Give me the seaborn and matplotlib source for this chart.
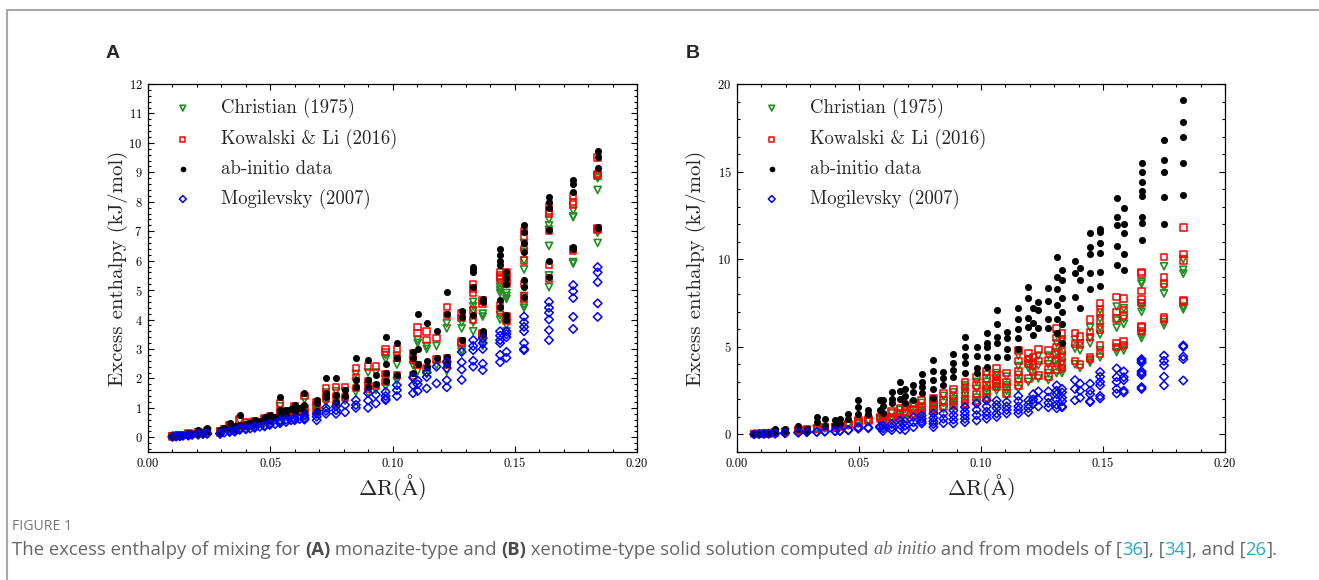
import numpy as np
import pandas as pd
import matplotlib
matplotlib.use("Agg")
import matplotlib.pyplot as plt
import seaborn as sns
from matplotlib.ticker import MultipleLocator, FormatStrFormatter
from matplotlib.lines import Line2D

# ---------------- DATA ----------------
SERIES = ["Christian (1975)", "Kowalski & Li (2016)", "ab-initio data", "Mogilevsky (2007)"]

# Panel A (monazite-type): one x value per column, several compositions per column
A_x = [0.0100, 0.0115, 0.0130, 0.0143, 0.0165, 0.0180, 0.0205, 0.0225, 0.0242, 0.0295,
       0.0312, 0.0334, 0.0355, 0.0375, 0.0400, 0.0418, 0.0436, 0.0457, 0.0477, 0.0498,
       0.0520, 0.0540, 0.0565, 0.0585, 0.0600, 0.0620, 0.0640, 0.0690, 0.0728, 0.0769,
       0.0806, 0.0850, 0.0900, 0.0932, 0.0972, 0.1018, 0.1084, 0.1103, 0.1140, 0.1180,
       0.1222, 0.1283, 0.1330, 0.1369, 0.1440, 0.1466, 0.1538, 0.1640, 0.1739, 0.1839]
A_abinitio = [[0.03, 0.04], [0.05, 0.06], [0.06, 0.08], [0.07], [0.15, 0.10], [0.12], [0.24, 0.15], [0.16],
              [0.30, 0.20], [0.25, 0.18], [0.33], [0.50, 0.30], [0.38, 0.28], [0.75, 0.42], [0.44, 0.40],
              [0.50], [0.58, 0.46], [0.55], [0.69, 0.55], [0.75, 0.60], [0.70], [1.36, 0.92, 0.75],
              [0.92, 0.78], [0.95], [1.09, 0.85], [1.00], [1.49, 1.09, 0.85], [1.25, 1.15, 0.90],
              [2.00, 1.50, 1.36], [2.00, 1.45, 1.20], [1.60, 1.40], [2.70, 1.94, 1.70], [2.62, 1.94, 1.70],
              [2.10, 1.80], [3.40, 2.50, 2.20, 1.90], [3.20, 2.70, 2.10], [2.90, 2.70, 2.20],
              [4.18, 3.00, 2.50], [3.87, 2.60, 2.40], [3.60, 2.70], [4.94, 4.20, 2.73, 2.50],
              [4.30, 4.10, 3.30, 3.30], [5.80, 5.70, 5.60, 5.10, 4.15], [4.70, 4.60, 3.60, 3.55, 3.50],
              [6.40, 6.20, 6.00, 5.85, 4.66, 4.43], [5.60, 5.40, 5.20, 4.15, 4.00],
              [7.20, 6.97, 6.60, 6.30, 5.35, 5.10, 4.76], [8.17, 8.00, 7.80, 7.05, 6.00, 5.45],
              [8.74, 8.60, 8.34, 6.46, 6.40], [9.72, 9.52, 9.15, 7.15, 7.12]]
A_kowalski = [[0.03, 0.04], [0.05, 0.05], [0.06, 0.07], [0.07], [0.12, 0.09], [0.11], [0.18, 0.14], [0.15],
              [0.22, 0.18], [0.22, 0.17], [0.28], [0.42, 0.28], [0.33, 0.27], [0.60, 0.38], [0.52, 0.40],
              [0.45], [0.55, 0.45], [0.50], [0.65, 0.52], [0.70, 0.58], [0.65], [1.15, 0.88, 0.72],
              [0.88, 0.75], [0.90], [1.05, 0.82], [0.95], [1.40, 1.00, 0.82], [1.20, 1.10, 0.88],
              [1.66, 1.45, 1.30], [1.70, 1.40, 1.15], [1.70, 1.35], [2.35, 2.05, 1.68], [2.40, 1.90, 1.65],
              [2.40, 1.75], [3.00, 2.90, 2.15, 1.88], [3.00, 2.70, 2.10], [2.85, 2.65, 2.10],
              [3.75, 3.54, 2.45], [3.60, 3.30, 2.35], [3.37, 2.65], [4.43, 4.15, 2.70, 2.45],
              [4.20, 4.05, 3.25, 3.20], [5.20, 4.90, 5.05, 4.30, 4.00], [4.65, 4.55, 3.55, 3.50, 3.45],
              [5.60, 5.45, 5.50, 5.40, 4.50, 4.30], [5.60, 5.40, 5.20, 4.10, 3.95],
              [7.00, 6.80, 6.40, 6.00, 5.20, 4.80, 4.70], [7.85, 7.60, 7.70, 7.00, 5.85, 5.40],
              [8.00, 7.90, 8.20, 6.40, 6.35], [9.50, 8.95, 8.90, 7.10, 7.05]]
A_christian = [[0.03, 0.035], [0.045, 0.05], [0.05, 0.06], [0.06], [0.11, 0.08], [0.10], [0.16, 0.13], [0.14],
               [0.20, 0.17], [0.20, 0.16], [0.26], [0.38, 0.26], [0.30, 0.25], [0.55, 0.35], [0.48, 0.37],
               [0.42], [0.50, 0.41], [0.46], [0.60, 0.48], [0.64, 0.53], [0.60], [1.05, 0.80, 0.66],
               [0.80, 0.69], [0.82], [0.96, 0.75], [0.87], [1.28, 0.92, 0.75], [1.10, 1.00, 0.80],
               [1.52, 1.33, 1.19], [1.56, 1.28, 1.05], [1.56, 1.24], [2.15, 1.88, 1.54], [2.20, 1.74, 1.51],
               [2.20, 1.60], [2.80, 2.65, 1.97, 1.72], [2.75, 2.47, 1.92], [2.60, 2.45, 1.95],
               [3.30, 3.20, 2.25], [3.10, 3.00, 2.15], [3.10, 2.45], [3.87, 3.70, 2.48, 2.25],
               [3.90, 3.70, 2.95, 2.90], [4.60, 4.30, 4.45, 3.90, 3.60], [4.20, 4.10, 3.25, 3.20, 3.10],
               [5.24, 5.00, 5.10, 4.90, 4.15, 4.00], [4.90, 4.80, 4.70, 3.80, 3.60],
               [6.60, 6.30, 6.00, 5.70, 4.80, 4.50, 4.40], [7.40, 7.20, 7.05, 6.50, 5.50, 5.10],
               [7.48, 7.50, 7.70, 5.90, 5.95], [8.40, 8.85, 8.80, 6.60, 6.95]]
A_mogilevsky = [[0.02, 0.02], [0.03, 0.03], [0.04, 0.04], [0.05], [0.07, 0.06], [0.08], [0.10, 0.09], [0.11],
                [0.13, 0.12], [0.13, 0.12], [0.16], [0.22, 0.18], [0.22, 0.19], [0.30, 0.25], [0.30, 0.27],
                [0.30], [0.36, 0.32], [0.36], [0.40, 0.37], [0.47, 0.42], [0.45], [0.58, 0.52, 0.48],
                [0.60, 0.52], [0.58], [0.64, 0.58], [0.62], [0.74, 0.65, 0.60], [0.80, 0.70, 0.58],
                [1.00, 0.90, 0.80], [1.05, 0.92, 0.80], [1.10, 0.85], [1.26, 1.10, 1.00], [1.50, 1.25, 1.00],
                [1.45, 1.15], [1.54, 1.40, 1.30, 1.26], [1.77, 1.60, 1.40], [2.03, 1.77, 1.50],
                [1.93, 1.80, 1.57], [2.20, 2.05, 1.66], [2.40, 1.83], [2.56, 2.35, 1.94, 1.70],
                [2.90, 2.55, 2.30, 1.95], [3.30, 2.96, 3.10, 2.60, 2.40], [3.37, 3.20, 3.00, 2.50, 2.28],
                [3.60, 3.45, 3.30, 3.20, 2.80, 2.55], [3.60, 3.50, 3.40, 2.90, 2.70],
                [4.10, 3.90, 3.75, 3.60, 3.20, 2.96, 3.00], [4.60, 4.40, 4.23, 4.00, 3.64, 3.30],
                [5.17, 4.96, 4.73, 4.09, 3.68], [5.78, 5.60, 5.27, 4.55, 4.09]]

# Panel B (xenotime-type)
B_x = [0.0070, 0.0090, 0.0110, 0.0130, 0.0156, 0.0197, 0.0251, 0.0286, 0.0327, 0.0360,
       0.0402, 0.0422, 0.0456, 0.0497, 0.0538, 0.0586, 0.0598, 0.0634, 0.0668, 0.0689,
       0.0723, 0.0757, 0.0805, 0.0846, 0.0887, 0.0934, 0.0982, 0.1023, 0.1064, 0.1105,
       0.1153, 0.1194, 0.1214, 0.1235, 0.1276, 0.1310, 0.1332, 0.1385, 0.1406, 0.1447,
       0.1488, 0.1556, 0.1585, 0.1658, 0.1750, 0.1829]
B_abinitio = [[0.03], [0.05], [0.07], [0.10], [0.32, 0.15], [0.30, 0.20], [0.51, 0.30], [0.32, 0.22],
              [0.99, 0.70], [0.90, 0.50], [0.80, 0.55], [0.90, 0.60], [1.18, 0.90], [1.94, 1.56, 1.18],
              [1.37, 1.18], [1.94, 1.37], [1.94, 1.60, 1.20], [2.42, 2.00, 1.77], [3.00, 2.50, 2.00],
              [2.60, 2.20, 1.77], [2.80, 2.40, 1.94], [3.47, 3.00, 2.70, 2.34],
              [4.23, 3.60, 3.10, 2.60, 2.10], [3.56, 3.20, 2.80], [4.60, 4.10, 3.70, 3.30],
              [5.56, 5.00, 4.50, 4.10, 3.50], [5.00, 4.50, 3.80, 3.50], [5.77, 5.20, 4.97, 4.40, 3.85],
              [7.08, 6.30, 5.56, 5.20, 4.40], [5.85, 5.50, 4.90, 4.40], [7.20, 6.60, 6.00, 5.50, 4.90],
              [8.40, 7.77, 6.63, 6.13], [7.20, 6.34, 5.70], [7.56, 7.08, 6.06], [8.34, 7.60, 6.60, 6.06],
              [10.13, 9.00, 8.30, 7.40, 6.60, 5.80], [9.40, 8.80, 7.80, 7.00, 6.30, 5.20],
              [9.90, 9.20, 7.85], [9.50, 8.80, 7.20], [11.50, 10.70, 10.30, 9.22, 8.32],
              [11.70, 11.55, 10.90, 10.34, 9.27, 8.45], [13.50, 12.40, 11.94, 10.74, 9.66],
              [12.90, 12.00, 11.50, 10.30, 9.37], [15.47, 15.00, 14.40, 13.90, 13.60, 12.40, 12.04, 11.10],
              [16.80, 15.66, 15.00, 13.56, 12.00], [19.10, 17.85, 17.00, 15.50, 13.66]]
B_kowalski = [[0.02], [0.04], [0.05], [0.07], [0.12, 0.10], [0.15, 0.13], [0.25, 0.22], [0.28, 0.25],
              [0.35, 0.32], [0.42, 0.38], [0.42, 0.40], [0.48, 0.45], [0.60, 0.55], [0.80, 0.72, 0.65],
              [0.85, 0.78], [1.00, 0.90], [1.10, 0.90, 0.70], [1.30, 1.00, 0.85], [1.50, 1.20, 1.00],
              [1.56, 1.30, 0.90], [1.77, 1.45, 1.20], [1.94, 1.60, 1.40, 1.20],
              [2.06, 1.80, 1.60, 1.45, 1.37], [2.34, 1.95, 1.56], [2.60, 2.20, 1.90, 1.66],
              [3.00, 2.70, 2.40, 2.00, 1.77], [3.27, 2.80, 2.30, 1.94], [3.60, 3.20, 2.80, 2.50, 2.10],
              [3.77, 3.40, 3.10, 2.90, 2.70], [3.50, 3.00, 2.70, 2.34], [4.80, 4.20, 3.60, 3.20, 2.80],
              [4.63, 4.30, 4.06, 3.20], [4.40, 4.00, 3.56], [4.86, 4.20, 3.37], [4.80, 4.23, 3.70, 3.30],
              [6.05, 5.50, 5.00, 4.60, 4.20, 3.70], [5.80, 5.30, 4.80, 4.40, 4.00, 3.80],
              [5.80, 5.20, 4.20], [5.60, 5.10, 4.00], [6.57, 5.85, 5.56, 4.42, 4.30],
              [7.50, 7.00, 6.50, 6.00, 5.08, 4.63], [7.85, 6.99, 6.63, 5.22, 5.00],
              [7.77, 7.10, 6.80, 5.30, 5.10], [9.27, 9.20, 8.20, 7.70, 7.50, 6.17, 6.10, 5.90],
              [10.13, 8.97, 8.63, 6.68, 6.60], [11.80, 10.30, 9.94, 7.66, 7.60]]
B_christian = [[0.02], [0.04], [0.05], [0.07], [0.11, 0.09], [0.14, 0.12], [0.23, 0.20], [0.26, 0.23],
               [0.33, 0.30], [0.39, 0.35], [0.40, 0.37], [0.45, 0.42], [0.56, 0.51], [0.74, 0.67, 0.60],
               [0.79, 0.72], [0.93, 0.84], [1.00, 0.85, 0.65], [1.20, 0.95, 0.80], [1.40, 1.10, 0.90],
               [1.45, 1.20, 0.85], [1.65, 1.35, 1.10], [1.80, 1.50, 1.30, 1.10],
               [1.90, 1.70, 1.50, 1.35, 1.25], [2.20, 1.80, 1.45], [2.40, 2.00, 1.75, 1.55],
               [2.80, 2.50, 2.20, 1.90, 1.65], [3.00, 2.60, 2.10, 1.80], [3.40, 3.00, 2.60, 2.30, 2.00],
               [3.50, 3.20, 2.90, 2.70, 2.50], [3.30, 2.80, 2.50, 2.20], [4.50, 3.90, 3.40, 3.00, 2.60],
               [4.30, 4.00, 3.80, 3.00], [4.10, 3.80, 3.30], [4.50, 3.94, 3.20], [4.50, 4.00, 3.50, 3.10],
               [5.70, 5.20, 4.70, 4.30, 3.90, 3.50], [5.40, 5.00, 4.50, 4.10, 3.70, 3.50],
               [5.40, 4.90, 4.00], [5.20, 4.80, 3.80], [6.10, 5.50, 5.20, 4.20, 4.10],
               [7.10, 6.60, 6.10, 5.70, 4.80, 4.40], [7.30, 6.50, 6.10, 4.90, 4.70],
               [7.20, 6.60, 6.30, 5.00, 4.80], [8.70, 8.60, 7.48, 7.26, 7.00, 5.77, 5.70, 5.50],
               [9.60, 8.40, 8.05, 6.23, 6.40], [10.00, 9.40, 9.18, 7.30, 7.14]]
B_mogilevsky = [[0.01], [0.02], [0.03], [0.04], [0.06, 0.05], [0.08, 0.07], [0.12, 0.10], [0.15, 0.13],
                [0.15, 0.14], [0.18, 0.16], [0.20, 0.18], [0.22, 0.20], [0.26, 0.24], [0.42, 0.38, 0.33],
                [0.40, 0.36], [0.45, 0.40], [0.50, 0.35, 0.20], [0.60, 0.40, 0.25], [0.80, 0.55, 0.30],
                [0.75, 0.50, 0.25], [0.99, 0.70, 0.42], [1.08, 0.90, 0.75, 0.63],
                [1.20, 0.95, 0.75, 0.60, 0.42], [1.20, 0.90, 0.65], [1.37, 1.10, 0.85, 0.63],
                [1.56, 1.30, 1.10, 0.90, 0.70], [1.77, 1.40, 1.10, 0.80], [1.94, 1.60, 1.30, 1.10, 0.90],
                [1.94, 1.70, 1.50, 1.20, 1.00], [1.85, 1.60, 1.40, 1.20], [2.20, 1.90, 1.60, 1.40, 1.20],
                [1.94, 1.70, 1.50, 1.27], [2.30, 2.00, 1.75], [2.46, 2.00, 1.60], [2.46, 2.10, 1.80, 1.55],
                [2.80, 2.50, 2.30, 2.00, 1.70, 1.50], [2.60, 2.40, 2.10, 1.90, 1.60, 1.55],
                [3.10, 2.60, 1.95], [2.90, 2.50, 2.10], [2.90, 2.50, 2.30, 1.85, 1.90],
                [3.56, 3.30, 3.00, 2.80, 2.20, 2.06], [3.77, 3.27, 3.00, 2.60, 2.34],
                [3.60, 3.27, 3.10, 2.50, 2.40], [4.30, 4.20, 4.10, 3.60, 3.50, 3.40, 2.70, 2.60],
                [4.50, 4.20, 3.94, 3.30, 2.80], [5.08, 5.00, 4.45, 4.30, 3.08]]


def to_frame(xs, chr_, kow, ab, mog):
    rows = []
    for name, cols in zip(SERIES, [chr_, kow, ab, mog]):
        for x, vals in zip(xs, cols):
            for v in vals:
                rows.append((x, v, name))
    return pd.DataFrame(rows, columns=["dR", "H", "series"])


dfA = to_frame(A_x, A_christian, A_kowalski, A_abinitio, A_mogilevsky)
dfB = to_frame(B_x, B_christian, B_kowalski, B_abinitio, B_mogilevsky)

# ---------------- STYLE ----------------
sns.set_theme(style="ticks")
plt.rcParams["font.family"] = ["cmr10", "DejaVu Serif"]
plt.rcParams["mathtext.fontset"] = "cm"
plt.rcParams["axes.formatter.use_mathtext"] = True
plt.rcParams["axes.unicode_minus"] = False

STYLE = {
    "Christian (1975)": dict(marker="v", color="#1f8f1f", facecolor="none", s=26, linewidth=1.2),
    "Kowalski & Li (2016)": dict(marker="s", color="#ff0000", facecolor="none", s=22, linewidth=1.1),
    "ab-initio data": dict(marker="o", color="#000000", s=26, linewidth=0.0),
    "Mogilevsky (2007)": dict(marker="D", color="#0000ff", facecolor="none", s=19, linewidth=1.1),
}

W, H = 1319, 580
fig = plt.figure(figsize=(W / 100, H / 100), dpi=100)
fig.patch.set_facecolor("white")

axA = fig.add_axes([148 / W, 1 - 452 / H, 489 / W, 368 / H])
axB = fig.add_axes([737 / W, 1 - 452 / H, 488 / W, 368 / H])

for ax, df, ylpad in [(axA, dfA, 0.5), (axB, dfB, 8)]:
    for name in SERIES:
        st = dict(STYLE[name])
        col = st.pop("color")
        sub = df[df["series"] == name]
        if "facecolor" in st:
            fc = st.pop("facecolor")
            sns.scatterplot(data=sub, x="dR", y="H", ax=ax, color=col, facecolor=fc,
                            edgecolor=col, label=name, zorder=3, **st)
        else:
            sns.scatterplot(data=sub, x="dR", y="H", ax=ax, color=col, edgecolor=col,
                            label=name, zorder=3, **st)
    ax.set_xlim(0, 0.2)
    ax.xaxis.set_major_locator(MultipleLocator(0.05))
    ax.xaxis.set_minor_locator(MultipleLocator(0.01))
    ax.xaxis.set_major_formatter(FormatStrFormatter("%.2f"))
    ax.tick_params(which="both", direction="in", top=True, right=True, labelsize=9,
                   width=0.8, colors="black", pad=4)
    ax.tick_params(which="major", length=4.5)
    ax.tick_params(which="minor", length=2.3)
    for sp in ax.spines.values():
        sp.set_linewidth(0.9)
        sp.set_color("black")
    ax.set_xlabel(r"$\Delta\mathrm{R}(\mathrm{\AA})$", fontsize=16, labelpad=1.5)
    ax.set_ylabel("Excess enthalpy (kJ/mol)", fontsize=15, labelpad=ylpad)
    ax.legend(loc="upper left", bbox_to_anchor=(0.052, 0.962), frameon=False, fontsize=13.5,
              handlelength=1.0, handletextpad=1.53, labelspacing=0.58, borderpad=0,
              borderaxespad=0, scatterpoints=1, markerscale=0.8)

axA.set_ylim(-0.5, 12)
axA.yaxis.set_major_locator(MultipleLocator(1))
axA.yaxis.set_minor_locator(MultipleLocator(0.2))
axB.set_ylim(-1.0, 20)
axB.yaxis.set_major_locator(MultipleLocator(5))
axB.yaxis.set_minor_locator(MultipleLocator(1))

# panel letters
fig.text(106 / W, 1 - 54 / H, "A", fontsize=14, fontweight="bold", family="Liberation Sans",
         va="center", ha="left")
fig.text(686 / W, 1 - 54 / H, "B", fontsize=14, fontweight="bold", family="Liberation Sans",
         va="center", ha="left")

# frame lines (left and top)
fig.add_artist(Line2D([7 / W, 7 / W], [0, 1 - 10 / H], transform=fig.transFigure,
                      color="#a8a8a8", lw=1.5))
fig.add_artist(Line2D([7 / W, 1], [1 - 10 / H, 1 - 10 / H], transform=fig.transFigure,
                      color="#a8a8a8", lw=1.5))

# caption
GRAY = "#666666"
TEAL = "#27a9c9"
fig.text(12 / W, 1 - 527 / H, "FIGURE 1", fontsize=10.2, color="#777777", family="Open Sans",
         va="center", ha="left")

renderer = fig.canvas.get_renderer()
base = dict(fontsize=13.3, color=GRAY, family="Open Sans", va="center", ha="left")
pieces = [
    ("The excess enthalpy of mixing for ", {}),
    ("(A)", dict(fontweight="bold", color="#4a4a4a")),
    (" monazite-type and ", {}),
    ("(B)", dict(fontweight="bold", color="#4a4a4a")),
    (" xenotime-type solid solution computed ", {}),
    ("ab initio", dict(family="Liberation Serif", style="italic")),
    (" and from models of [", {}),
    ("36", dict(color=TEAL)),
    ("], [", {}),
    ("34", dict(color=TEAL)),
    ("], and [", {}),
    ("26", dict(color=TEAL)),
    ("].", {}),
]
xpos = 12 / W
ypos = 1 - 550 / H
for txt, kw in pieces:
    k = dict(base)
    k.update(kw)
    t = fig.text(xpos, ypos, txt, **k)
    bb = t.get_window_extent(renderer=renderer)
    xpos += bb.width / fig.bbox.width

fig.savefig("out.png", dpi=100, facecolor="white")
